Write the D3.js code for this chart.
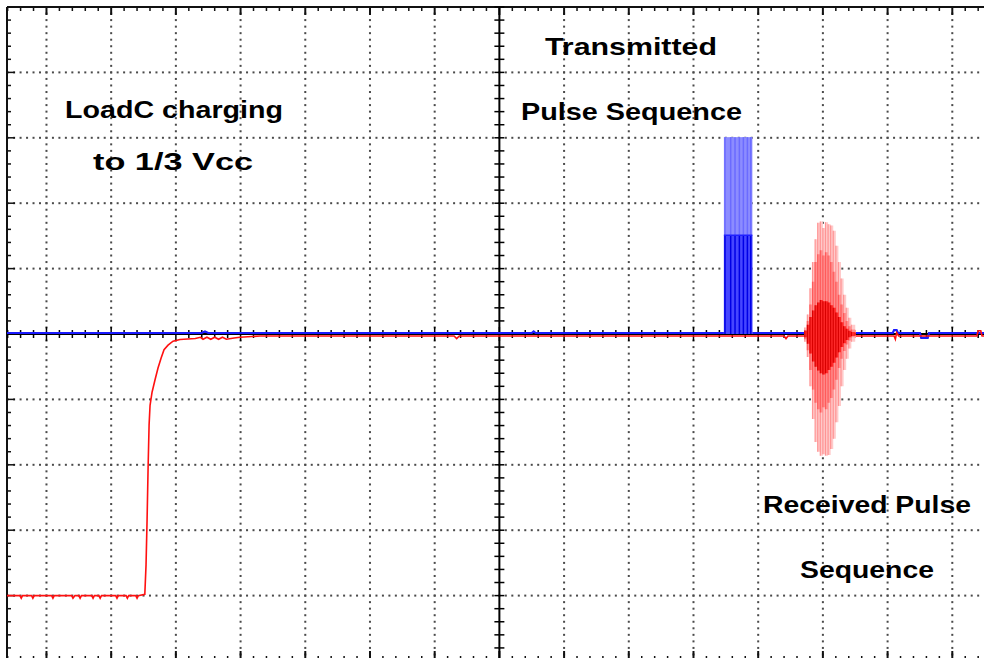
<!DOCTYPE html>
<html><head><meta charset="utf-8">
<script src="https://cdn.jsdelivr.net/npm/d3@7/dist/d3.min.js"></script>
<style>html,body{margin:0;padding:0;background:#fff;overflow:hidden}svg{display:block}</style>
</head><body>
<svg id="chart" width="984" height="658"></svg>
<script>
// ---------- data (time and amplitude in screen divisions) ----------
const gridX = [-7,-6,-5,-4,-3,-2,-1,1,2,3,4,5,6,7];
const gridY = [-4,-3,-2,-1,1,2,3,4];

// Channel 2 (red): load capacitor charging, then received burst baseline
const redTrace = [
  [-7.61,-4.00],[-7.41,-4.00],[-7.39,-4.04],[-7.37,-4.00],[-7.23,-4.00],[-7.21,-4.04],[-7.19,-4.00],
  [-6.92,-4.00],[-6.90,-4.04],[-6.88,-4.00],[-6.61,-4.00],[-6.59,-4.04],[-6.56,-4.00],[-6.50,-4.00],
  [-6.48,-4.04],[-6.46,-4.00],[-6.30,-4.00],[-6.28,-4.04],[-6.26,-4.00],[-6.19,-4.00],[-6.17,-4.04],
  [-6.15,-4.00],[-5.93,-4.00],[-5.91,-4.04],[-5.89,-4.00],[-5.77,-4.00],[-5.75,-4.04],[-5.73,-4.00],
  [-5.62,-4.00],[-5.60,-4.04],[-5.58,-4.00],[-5.48,-3.98],
  [-5.461,-3.53],[-5.445,-2.84],[-5.430,-2.08],[-5.414,-1.39],[-5.399,-1.09],[-5.368,-0.89],
  [-5.322,-0.70],[-5.276,-0.52],[-5.229,-0.37],[-5.183,-0.24],[-5.121,-0.17],[-5.044,-0.11],
  [-4.936,-0.085],[-4.70,-0.07],[-4.62,-0.05],[-4.58,-0.08],[-4.52,-0.05],[-4.46,-0.08],[-4.40,-0.05],
  [-4.34,-0.08],[-4.28,-0.05],[-4.22,-0.08],[-4.10,-0.06],[-4.01,-0.05],[-3.70,-0.03],
  [-2.0,-0.03],[-0.70,-0.03],[-0.66,-0.07],[-0.62,-0.03],[1.0,-0.03],[3.0,-0.03],[4.4,-0.03],
  [4.43,-0.07],[4.46,-0.03],[6.1,-0.03],[6.12,-0.08],[6.14,0.02],[6.17,-0.03],[7.38,-0.03],
  [7.40,0.05],[7.44,0.05],[7.46,-0.03],[7.49,-0.03]
];

// Channel 1 (blue): idle line with small glitches
const blueTrace = [
  [-7.61,0.015],[-4.6,0.015],[-4.55,0.04],[-4.5,0.015],[0.5,0.015],[0.53,0.04],[0.56,0.015],
  [3.47,0.015],[3.91,0.015],[6.08,0.015],[6.10,0.06],[6.14,0.06],[6.16,0.015],[6.50,0.015],
  [6.52,-0.06],[6.62,-0.06],[6.64,0.015],[7.49,0.015]
];

// Transmitted pulse burst (blue)
const txStart = 3.47, txEnd = 3.91;
const txHigh = 3.01, txMid = 1.51;
const txPulses = [3.487,3.575,3.642,3.709,3.771,3.833,3.885];

// Received pulse burst (red): per-sample envelopes of overlaid sweeps
const rxTimes  = [4.72,4.76,4.80,4.84,4.88,4.92,4.96,5.00,5.04,5.08,5.12,5.16,5.20,5.24,5.28,5.32,5.36,5.40,5.44,5.50];
const rxOuterHi= [0.10,0.30,0.70,1.10,1.45,1.70,1.72,1.62,1.71,1.68,1.66,1.58,1.35,1.10,0.85,0.60,0.40,0.25,0.14,0.06];
const rxOuterLo= [-0.12,-0.35,-0.80,-1.30,-1.65,-1.80,-1.86,-1.84,-1.86,-1.85,-1.76,-1.60,-1.35,-1.10,-0.80,-0.55,-0.38,-0.22,-0.12,-0.06];
const rxMidHi  = [0.06,0.20,0.45,0.80,1.10,1.22,1.28,1.20,1.25,1.20,1.10,0.95,0.80,0.60,0.45,0.32,0.20,0.12,0.07,0.03];
const rxMidLo  = [-0.08,-0.25,-0.55,-0.85,-1.05,-1.15,-1.20,-1.12,-1.15,-1.05,-0.98,-0.85,-0.70,-0.52,-0.38,-0.26,-0.16,-0.10,-0.05,-0.03];
const rxCoreHi = [0.05,0.14,0.26,0.36,0.44,0.48,0.52,0.50,0.50,0.48,0.44,0.40,0.33,0.26,0.18,0.12,0.08,0.05,0.03,0.01];
const rxCoreLo = [-0.05,-0.15,-0.30,-0.42,-0.50,-0.56,-0.60,-0.62,-0.60,-0.55,-0.50,-0.44,-0.36,-0.28,-0.20,-0.14,-0.09,-0.05,-0.03,-0.01];

const labels = [
  {text:"LoadC charging", x0:65, x1:283, y:118},
  {text:"to 1/3 Vcc", x0:93, x1:253, y:170},
  {text:"Transmitted", x0:545, x1:717, y:55},
  {text:"Pulse Sequence", x0:521, x1:742, y:120},
  {text:"Received Pulse", x0:763, x1:971, y:513},
  {text:"Sequence", x0:800, x1:934, y:578}
];

// ---------- drawing ----------
const svg = d3.select("#chart");
const x = d3.scaleLinear().domain([-7.61, 7.49]).range([7, 984]);
const y = d3.scaleLinear().domain([-5, 5]).range([661, 7]);

svg.append("rect").attr("width",984).attr("height",658).attr("fill","#fff");

// dotted grid
const dots = svg.append("g").attr("fill","#4a4a4a");
const vSteps = d3.range(-50, 51).map(i => i/10);
const tSteps = d3.range(-76, 75).map(i => i/10);
gridX.forEach(k => vSteps.forEach(v => {
  dots.append("rect").attr("x", x(k)-1).attr("y", y(v)-1).attr("width",2).attr("height",2);
}));
gridY.forEach(j => tSteps.forEach(t => {
  dots.append("rect").attr("x", x(t)-1).attr("y", y(j)-1).attr("width",2).attr("height",2);
}));

// frame (left, top, bottom) with ticks
const frame = svg.append("g").attr("stroke","#111");
frame.append("line").attr("x1",x(-7.61)).attr("x2",x(-7.61)).attr("y1",y(5)).attr("y2",y(-5)).attr("stroke-width",2);
frame.append("line").attr("x1",x(-7.61)).attr("x2",984).attr("y1",y(5)).attr("y2",y(5)).attr("stroke-width",2);
frame.append("line").attr("x1",x(-7.61)).attr("x2",984).attr("y1",y(-5)).attr("y2",y(-5)).attr("stroke-width",2);
const tTicks = d3.range(-38, 38).map(i => i/5);
const vTicks = d3.range(-25, 26).map(i => i/5);
const isMajor = d => Math.abs(d - Math.round(d)) < 1e-6;
tTicks.forEach(t => {
  const L = isMajor(t) ? 8 : 4, w = isMajor(t) ? 2 : 1.5;
  frame.append("line").attr("x1",x(t)).attr("x2",x(t)).attr("y1",y(5)).attr("y2",y(5)+L).attr("stroke-width",w);
  frame.append("line").attr("x1",x(t)).attr("x2",x(t)).attr("y1",y(-5)).attr("y2",y(-5)-(isMajor(t)?10:5)).attr("stroke-width",w);
});
vTicks.forEach(v => {
  const L = isMajor(v) ? 8 : 4;
  frame.append("line").attr("x1",x(-7.61)).attr("x2",x(-7.61)+L).attr("y1",y(v)).attr("y2",y(v)).attr("stroke-width",1.5);
});

// centre axes
const ax = svg.append("g").attr("stroke","#000");
ax.append("line").attr("x1",x(-7.61)).attr("x2",984).attr("y1",y(0)).attr("y2",y(0)).attr("stroke-width",2.2);
ax.append("line").attr("x1",x(0)).attr("x2",x(0)).attr("y1",y(5)).attr("y2",y(-5)).attr("stroke-width",2);
tTicks.forEach(t => {
  const L = isMajor(t) ? 7 : 4;
  ax.append("line").attr("x1",x(t)).attr("x2",x(t)).attr("y1",y(0)-L).attr("y2",y(0)+L).attr("stroke-width",1.5);
});
vTicks.forEach(v => {
  ax.append("line").attr("x1",x(0)-5).attr("x2",x(0)+5).attr("y1",y(v)).attr("y2",y(v)).attr("stroke-width",1.5);
});

// blue channel
const line = d3.line().x(d => x(d[0])).y(d => y(d[1]));
svg.append("path").datum(blueTrace).attr("d", line).attr("fill","none")
  .attr("stroke","#1a1aff").attr("stroke-width",2.2);

// transmitted burst
const txG = svg.append("g");
txG.append("rect").attr("x",x(txStart)).attr("width",x(txEnd)-x(txStart))
  .attr("y",y(txHigh)).attr("height",y(0)-y(txHigh)).attr("fill","#8c8cff");
txG.append("rect").attr("x",x(txStart)).attr("width",x(txEnd)-x(txStart))
  .attr("y",y(txMid)).attr("height",y(0)-y(txMid)).attr("fill","#4646ff");
txPulses.forEach(t => {
  txG.append("line").attr("x1",x(t)).attr("x2",x(t)).attr("y1",y(txHigh)).attr("y2",y(txMid))
    .attr("stroke","#6b6bff").attr("stroke-width",1.5);
  txG.append("line").attr("x1",x(t)).attr("x2",x(t)).attr("y1",y(txMid)).attr("y2",y(0))
    .attr("stroke","#0000e6").attr("stroke-width",1.5);
});
txG.append("line").attr("x1",x(txStart)).attr("x2",x(txEnd)).attr("y1",y(txMid)).attr("y2",y(txMid))
  .attr("stroke","#2020ff").attr("stroke-width",1.5);

// red channel
svg.append("path").datum(redTrace).attr("d", line).attr("fill","none")
  .attr("stroke","#ff1010").attr("stroke-width",1.6);

// received burst
const rx = rxTimes.map((t,i) => ({t, oh:rxOuterHi[i], ol:rxOuterLo[i], mh:rxMidHi[i], ml:rxMidLo[i], ch:rxCoreHi[i], cl:rxCoreLo[i]}));
const layers = [
  {hi:"oh", lo:"ol", fill:"#ffcaca", stroke:"#ff9494"},
  {hi:"mh", lo:"ml", fill:"#ff8e8e", stroke:"#ff5a5a"},
  {hi:"ch", lo:"cl", fill:"#ff2a2a", stroke:"#d80000"}
];
const rxG = svg.append("g");
layers.forEach(L => {
  const area = d3.area().x(d => x(d.t)).y0(d => y(d[L.lo])).y1(d => y(d[L.hi])).curve(d3.curveStepAfter);
  rxG.append("path").datum(rx).attr("d", area).attr("fill", L.fill);
  rx.forEach(d => {
    rxG.append("line").attr("x1",x(d.t)).attr("x2",x(d.t)).attr("y1",y(d[L.hi])).attr("y2",y(d[L.lo]))
      .attr("stroke", L.stroke).attr("stroke-width",1.2);
  });
});

// annotations
svg.append("g").selectAll("text").data(labels).join("text")
  .attr("x", d => d.x0).attr("y", d => d.y)
  .attr("textLength", d => d.x1 - d.x0).attr("lengthAdjust","spacingAndGlyphs")
  .attr("font-family","'Liberation Sans', Arial, sans-serif").attr("font-weight","bold")
  .attr("font-size", 23).attr("fill","#000")
  .text(d => d.text);
</script>
</body></html>
